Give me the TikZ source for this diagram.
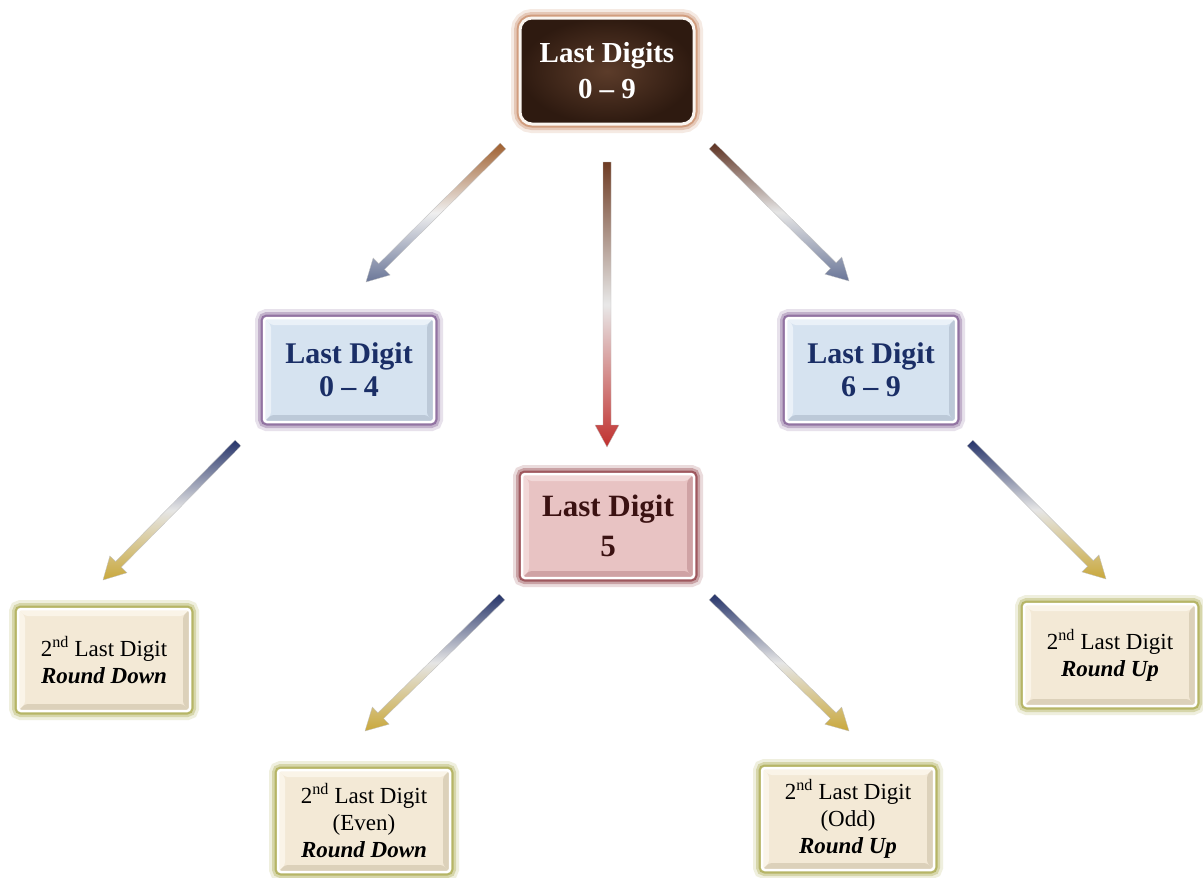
\documentclass[tikz,border=0pt]{standalone}
\usepackage{fontspec}
\setmainfont{Liberation Serif}
\usetikzlibrary{calc}
\definecolor{bluefill}{HTML}{D6E3F0}
\definecolor{bluelight}{HTML}{EAF1F8}
\definecolor{bluedark}{HTML}{BCC9D8}
\definecolor{purpleglow}{HTML}{7E5A92}
\definecolor{pinkfill}{HTML}{E8C3C3}
\definecolor{pinklight}{HTML}{F2D8D8}
\definecolor{pinkdark}{HTML}{CFA2A4}
\definecolor{redglow}{HTML}{8E3A40}
\definecolor{creamfill}{HTML}{F3E9D6}
\definecolor{creamlight}{HTML}{FAF4E8}
\definecolor{creamdark}{HTML}{DCD1BA}
\definecolor{oliveglow}{HTML}{A9A84A}
\definecolor{brownglow}{HTML}{C98B66}
\definecolor{marblein}{HTML}{5C3C2A}
\definecolor{marbleout}{HTML}{2E1A10}
\definecolor{navytext}{HTML}{1A2E66}
\definecolor{maroontext}{HTML}{3B1212}
\definecolor{arrbrownA}{HTML}{A0602F}
\definecolor{arrbrownB}{HTML}{6E3C24}
\definecolor{arrbrownC}{HTML}{5E3222}
\definecolor{arrslate}{HTML}{6A7698}
\definecolor{arrred}{HTML}{C0302E}
\definecolor{arrnavy}{HTML}{26346A}
\definecolor{arrgold}{HTML}{C9A83C}
\newcommand\bevelfill[3]{%
 \fill[#1] (path picture bounding box.north west) -- (path picture bounding box.north east) -- ([xshift=-#3,yshift=-#3]path picture bounding box.north east) -- ([xshift=#3,yshift=-#3]path picture bounding box.north west) -- cycle;
 \fill[#1] (path picture bounding box.north west) -- ([xshift=#3,yshift=-#3]path picture bounding box.north west) -- ([xshift=#3,yshift=#3]path picture bounding box.south west) -- (path picture bounding box.south west) -- cycle;
 \fill[#2] (path picture bounding box.south west) -- ([xshift=#3,yshift=#3]path picture bounding box.south west) -- ([xshift=-#3,yshift=#3]path picture bounding box.south east) -- (path picture bounding box.south east) -- cycle;
 \fill[#2] (path picture bounding box.south east) -- ([xshift=-#3,yshift=#3]path picture bounding box.south east) -- ([xshift=-#3,yshift=-#3]path picture bounding box.north east) -- (path picture bounding box.north east) -- cycle;
}
\newcommand\gradarrow[5]{%
 \coordinate (#1hb) at ($(#2)!22pt!(#1)$);
 \shadedraw[draw=black!25, line width=0.3pt, top color=#3, bottom color=#5, middle color=#4]
  ($(#1)!4pt!90:(#2)$) -- ($(#1hb)!4pt!90:(#2)$) -- ($(#1hb)!12pt!90:(#2)$) -- (#2)
  -- ($(#1hb)!12pt!-90:(#2)$) -- ($(#1hb)!4pt!-90:(#2)$) -- ($(#1)!4pt!-90:(#2)$) -- cycle;
}
\tikzset{
 glow/.style={preaction={draw=#1, line width=18pt, draw opacity=.18},
              preaction={draw=#1, line width=12pt, draw opacity=.35},
              preaction={draw=#1, line width=7pt, draw opacity=.7}},
 boxbase/.style={rectangle, align=center, inner sep=0pt, draw=white, line width=2.5pt},
 topbox/.style={boxbase, minimum width=174pt, minimum height=106pt, rounded corners=12pt,
   draw=white!92!brown, line width=3pt, inner color=marblein, outer color=marbleout, glow=brownglow,
   text=white, font=\bfseries\fontsize{29}{36}\selectfont},
 bluebox/.style={boxbase, minimum width=170pt, minimum height=104pt, rounded corners=3pt,
   fill=bluefill, glow=purpleglow, path picture={\bevelfill{bluelight}{bluedark}{7pt}},
   text=navytext, font=\bfseries\fontsize{30}{33}\selectfont},
 pinkbox/.style={boxbase, minimum width=172pt, minimum height=104pt, rounded corners=3pt,
   fill=pinkfill, glow=redglow, path picture={\bevelfill{pinklight}{pinkdark}{7pt}},
   text=maroontext, font=\bfseries\fontsize{31}{40}\selectfont},
 creambox/.style={boxbase, minimum width=172pt, minimum height=102pt, rounded corners=3pt,
   fill=creamfill, glow=oliveglow, path picture={\bevelfill{creamlight}{creamdark}{7pt}},
   text=black, font=\fontsize{23}{27}\selectfont},
}
\newcommand\nd{\textsuperscript{nd}}
\begin{document}
\begin{tikzpicture}[x=1pt,y=-1pt]
\useasboundingbox[fill=white] (0,0) rectangle (1203,878);
\node[topbox] (top) at (607,71) {Last Digits\\0 -- 9};
\node[bluebox] (left) at (349,370) {Last Digit\\0 -- 4};
\node[bluebox] (right) at (871,370) {Last Digit\\6 -- 9};
\node[pinkbox] (five) at (608,526) {Last Digit\\5};
\node[creambox] (ll) at (104,660) {2\nd{} Last Digit\\\textbf{\textit{Round Down}}};
\node[creambox] (even) at (364,821) {2\nd{} Last Digit\\(Even)\\\textbf{\textit{Round Down}}};
\node[creambox] (odd) at (848,819) {2\nd{} Last Digit\\(Odd)\\\textbf{\textit{Round Up}}};
\node[creambox] (rr) at (1110,655) {2\nd{} Last Digit\\\textbf{\textit{Round Up}}};
% arrow end points
\coordinate (a1s) at (503,146); \coordinate (a1e) at (366,282);
\coordinate (a2s) at (607,162); \coordinate (a2e) at (607,447);
\coordinate (a3s) at (712,146); \coordinate (a3e) at (849,281);
\coordinate (a4s) at (238,443); \coordinate (a4e) at (103,580);
\coordinate (a5s) at (502,597); \coordinate (a5e) at (365,731);
\coordinate (a6s) at (712,597); \coordinate (a6e) at (849,731);
\coordinate (a7s) at (970,443); \coordinate (a7e) at (1106,579);
\gradarrow{a1s}{a1e}{arrbrownA}{gray!12}{arrslate}
\gradarrow{a2s}{a2e}{arrbrownB}{gray!18}{arrred}
\gradarrow{a3s}{a3e}{arrbrownC}{gray!20}{arrslate}
\gradarrow{a4s}{a4e}{arrnavy}{gray!20}{arrgold}
\gradarrow{a5s}{a5e}{arrnavy}{gray!20}{arrgold}
\gradarrow{a6s}{a6e}{arrnavy}{gray!20}{arrgold}
\gradarrow{a7s}{a7e}{arrnavy}{gray!20}{arrgold}
\end{tikzpicture}
\end{document}
